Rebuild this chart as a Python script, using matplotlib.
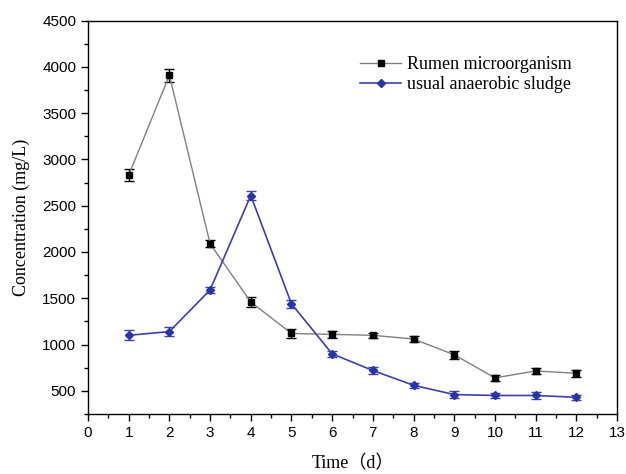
import numpy as np
import matplotlib.pyplot as plt
from matplotlib.ticker import MultipleLocator

# 數據
days = [1, 2, 3, 4, 5, 6, 7, 8, 9, 10, 11, 12]
rumen = [2830, 3910, 2090, 1460, 1120, 1110, 1100, 1060, 890, 640, 715, 690]
rumen_err = [65, 70, 40, 55, 45, 40, 30, 35, 45, 35, 35, 35]
sludge = [1100, 1140, 1590, 2610, 1440, 900, 720, 560, 460, 450, 450, 430]
sludge_err = [55, 50, 30, 45, 45, 30, 40, 30, 35, 30, 35, 30]

serif = ['Liberation Serif', 'Noto Sans CJK SC', 'DejaVu Serif']
plt.rcParams['font.family'] = ['Liberation Sans', 'DejaVu Sans']

fig = plt.figure(figsize=(6.26, 4.74), dpi=100)
ax = fig.add_axes([0.1406, 0.1266, 0.845, 0.83])

# 誤差棒
ax.errorbar(days, rumen, yerr=rumen_err, fmt='none', ecolor='black',
            elinewidth=1.0, capsize=3.5, capthick=1.0)
ax.errorbar(days, sludge, yerr=sludge_err, fmt='none', ecolor='#3d3fae',
            elinewidth=1.0, capsize=3.5, capthick=1.0)

# 曲線
ax.plot(days, rumen, color='#808080', lw=1.0, marker='s', ms=4.5,
        mfc='black', mec='black', label='Rumen microorganism')
ax.plot(days, sludge, color='#3d3fae', lw=1.2, marker='D', ms=4,
        mfc='#2a35a5', mec='#2a35a5', label='usual anaerobic sludge')

ax.set_xlim(0, 13)
ax.set_ylim(250, 4500)
ax.xaxis.set_major_locator(MultipleLocator(1))
ax.xaxis.set_minor_locator(MultipleLocator(0.5))
ax.yaxis.set_major_locator(MultipleLocator(500))
ax.yaxis.set_minor_locator(MultipleLocator(250))
ax.tick_params(which='major', direction='out', length=5, width=1, labelsize=11)
ax.tick_params(which='minor', direction='out', length=3, width=1)
for s in ax.spines.values():
    s.set_linewidth(1.0)

ax.set_xlabel('Time（d）', fontsize=13, family=serif, labelpad=11)
ax.set_ylabel('Concentration (mg/L)', fontsize=13, family=serif, labelpad=9)

leg = ax.legend(loc='upper right', bbox_to_anchor=(0.945, 0.95), frameon=False,
                prop={'family': serif, 'size': 13}, handlelength=2.3,
                handletextpad=0.3, labelspacing=0.15)

fig.savefig('out.png', dpi=100)
